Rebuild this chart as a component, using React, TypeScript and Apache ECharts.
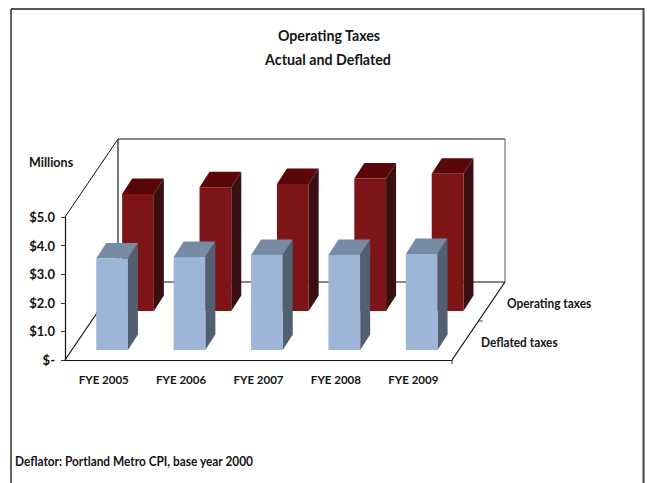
import React, { useEffect, useRef } from "react";
import * as echarts from "echarts";

const fiscalYears = ["FYE 2005", "FYE 2006", "FYE 2007", "FYE 2008", "FYE 2009"];
const operatingTaxes = [4.09, 4.33, 4.44, 4.63, 4.8];
const deflatedTaxes = [3.2, 3.25, 3.32, 3.32, 3.36];
const yMax = 5;
const yStep = 1;
const seriesLabels = ["Operating taxes", "Deflated taxes"];
const chartTitle = "Operating Taxes";
const chartSubtitle = "Actual and Deflated";
const unitLabel = "Millions";
const footnote = "Deflator: Portland Metro CPI, base year 2000";

const FONT = "Lato, 'Open Sans', sans-serif";
const INK = "#141414";

// Oblique projection of the chart's depth axis
const DEPTH_DX = 53;
const DEPTH_DY = -78;
const BAR_DX = 10;
const BAR_DY = -15.5;

type Face = { front: string; top: string; side: string };

const RED: Face = { front: "#7d1416", top: "#5a0709", side: "#3a0f11" };
const BLUE: Face = { front: "#9db5d6", top: "#778ba5", side: "#525f70" };

function polygon(points: number[][], fill: string) {
  return { type: "polygon", shape: { points }, style: { fill, stroke: "none" } };
}

// A prism standing on the floor, shifted back by (offX, offY)
function prismRenderer(face: Face, offX: number, offY: number) {
  return (_params: any, api: any) => {
    const base = api.coord([api.value(0), 0]);
    const top = api.coord([api.value(0), api.value(1)]);
    const half = (api.size([1, 0])[0] * 0.41) / 2;
    const l = base[0] + offX - half;
    const r = base[0] + offX + half;
    const b = base[1] + offY;
    const t = top[1] + offY;
    return {
      type: "group",
      children: [
        polygon([[l, t], [r, t], [r + BAR_DX, t + BAR_DY], [l + BAR_DX, t + BAR_DY]], face.top),
        polygon([[r, t], [r + BAR_DX, t + BAR_DY], [r + BAR_DX, b + BAR_DY], [r, b]], face.side),
        polygon([[l, t], [r, t], [r, b], [l, b]], face.front),
      ],
    };
  };
}

function seg(x1: number, y1: number, x2: number, y2: number, stroke: string, lineWidth: number) {
  return { type: "line", shape: { x1, y1, x2, y2 }, style: { stroke, lineWidth } };
}

// Back wall and floor edges, anchored to the plot's own scales
function wallRenderer(_params: any, api: any) {
  const n = fiscalYears.length;
  const half = api.size([1, 0])[0] / 2;
  const lb = api.coord([0, 0]);
  const lt = api.coord([0, yMax]);
  const rb = api.coord([n - 1, 0]);
  const x0 = lb[0] - half;
  const x1 = rb[0] + half;
  const y0 = lb[1];
  const y1 = lt[1];
  const bx0 = x0 + DEPTH_DX;
  const bx1 = x1 + DEPTH_DX;
  const by0 = y0 + DEPTH_DY;
  const by1 = y1 + DEPTH_DY;
  return {
    type: "group",
    children: [
      seg(x0, y1, bx0, by1, "#111", 1),
      seg(bx0, by1, bx1, by1, "#111", 1.2),
      seg(bx0, by1, bx0, by0, "#3c3c3c", 1.4),
      seg(bx1, by1, bx1, by0, "#8a8a8a", 1.4),
      seg(bx0, by0, bx1, by0, "#111", 1.2),
      seg(x0, y0, bx0, by0, "#111", 1.2),
      seg(x1, y0, bx1, by0, "#111", 1.2),
      seg(x1, y0, x1, y0 + 4, "#333", 1),
      seg(x1 + DEPTH_DX / 2, y0 + DEPTH_DY / 2, x1 + DEPTH_DX / 2 + 4, y0 + DEPTH_DY / 2, "#333", 1),
    ],
  };
}

const tickText = { fontFamily: FONT, fontWeight: "bold" as const, fontSize: 11.5, color: INK };

// Bold label squeezed horizontally to the set width of a condensed face
function graphicLabel(
  text: string,
  x: number,
  y: number,
  size = 13.5,
  squeeze = 0.88,
  align: "left" | "center" = "left"
) {
  return {
    type: "text",
    x,
    y,
    scaleX: squeeze,
    style: {
      text,
      fill: INK,
      font: `bold ${size}px ${FONT}`,
      textAlign: align,
      textVerticalAlign: "middle",
    },
  };
}

export default function App() {
  const ref = useRef<HTMLDivElement>(null);

  useEffect(() => {
    if (!ref.current) return;
    const chart = echarts.init(ref.current, undefined, { renderer: "svg" });
    chart.setOption({
      animation: false,
      backgroundColor: "#ffffff",
      grid: { left: 65, top: 217, width: 387, height: 143 },
      xAxis: {
        type: "category",
        data: fiscalYears,
        axisLine: { lineStyle: { color: "#111", width: 1.2 } },
        axisTick: { length: 4, lineStyle: { color: "#333" } },
        axisLabel: { ...tickText, margin: 13 },
      },
      yAxis: {
        type: "value",
        min: 0,
        max: yMax,
        interval: yStep,
        splitLine: { show: false },
        axisLine: { show: true, lineStyle: { color: "#111", width: 1.2 } },
        axisTick: { show: true, length: 4, lineStyle: { color: "#333" } },
        axisLabel: {
          ...tickText,
          fontSize: 13,
          margin: 10,
          formatter: (v: number) => (v === 0 ? "$-" : `$${v.toFixed(1)}`),
        },
      },
      series: [
        {
          type: "custom",
          name: "walls",
          data: [[0, 0]],
          renderItem: wallRenderer,
          silent: true,
          clip: false,
          z: 1,
        },
        {
          type: "custom",
          name: seriesLabels[0],
          data: operatingTaxes.map((v, i) => [i, v]),
          encode: { x: 0, y: 1 },
          renderItem: prismRenderer(RED, 34.3, -49),
          clip: false,
          z: 2,
        },
        {
          type: "custom",
          name: seriesLabels[1],
          data: deflatedTaxes.map((v, i) => [i, v]),
          encode: { x: 0, y: 1 },
          renderItem: prismRenderer(BLUE, 8.4, -10),
          clip: false,
          z: 3,
        },
      ],
      graphic: [
        { type: "line", shape: { x1: 11, y1: 9, x2: 643, y2: 9 }, style: { stroke: "#222", lineWidth: 1.6 } },
        { type: "line", shape: { x1: 11, y1: 9, x2: 11, y2: 483 }, style: { stroke: "#222", lineWidth: 1.4 } },
        { type: "line", shape: { x1: 643.5, y1: 8, x2: 643.5, y2: 483 }, style: { stroke: "#444", lineWidth: 2 } },
        graphicLabel(chartTitle, 329, 35, 16, 0.89, "center"),
        graphicLabel(chartSubtitle, 328, 59, 16, 0.89, "center"),
        graphicLabel(unitLabel, 29, 162, 13.5, 0.93),
        graphicLabel(seriesLabels[0], 507, 303),
        graphicLabel(seriesLabels[1], 481, 342),
        graphicLabel(footnote, 15, 461),
      ],
    });
    return () => chart.dispose();
  }, []);

  return (
    <div
      ref={ref}
      style={{ position: "fixed", left: 0, top: 0, width: 647, height: 483 }}
    />
  );
}
